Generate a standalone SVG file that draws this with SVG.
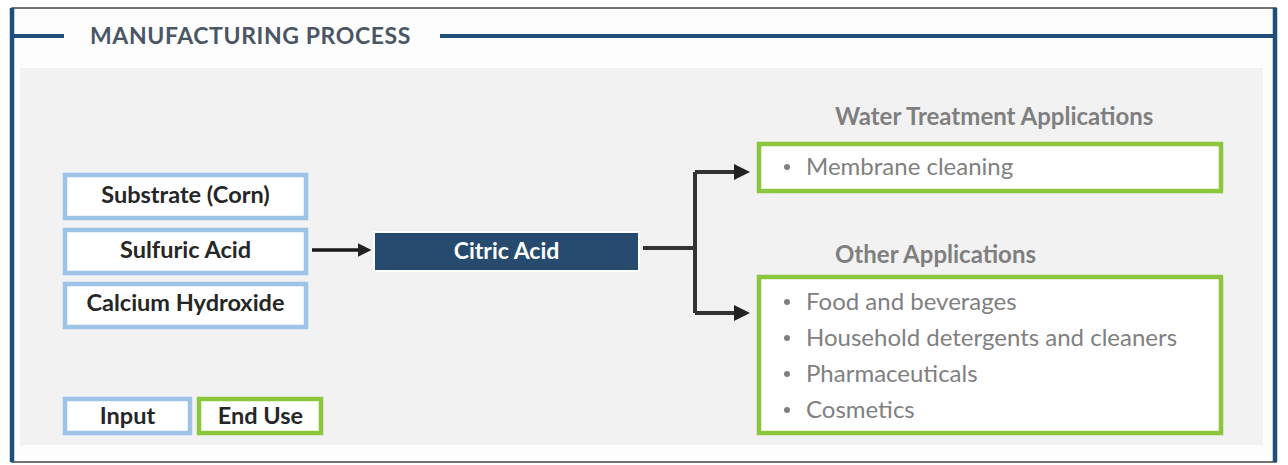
<svg xmlns="http://www.w3.org/2000/svg" width="1288" height="465" viewBox="0 0 1288 465">
<style>
.inbox{fill:#ffffff;stroke:#9dc3e6;stroke-width:4.5}
.endbox{fill:#ffffff;stroke:#8cc63f;stroke-width:4.5}
.lbl{font-family:Lato,"Open Sans",sans-serif;font-weight:bold;font-size:23.5px;fill:#262626;text-anchor:middle}
.hdr{font-family:Lato,"Open Sans",sans-serif;font-weight:bold;font-size:24px;fill:#7f7f7f}
.item{font-family:Lato,"Open Sans",sans-serif;font-size:24px;fill:#808080}
.dot{fill:#808080}
.conn{fill:none;stroke:#333333;stroke-width:4;stroke-linejoin:round}
</style>
<defs>
<marker id="ah" markerWidth="4" markerHeight="4" refX="1" refY="2" orient="auto" markerUnits="strokeWidth" viewBox="0 0 4 4">
<path d="M0,0 L4,2 L0,4 Z" fill="#222222"/>
</marker>
</defs>
<rect x="0" y="0" width="1288" height="465" fill="#ffffff"/>
<g id="frame">
<rect x="12" y="8" width="1264" height="454" fill="#fdfdfd" stroke="#444444" stroke-width="1.5"/>
<rect x="20" y="68" width="1243" height="377" fill="#f2f2f2"/>
<line x1="12" y1="8" x2="12" y2="462" stroke="#1f4e79" stroke-width="4.5"/>
<line x1="1275" y1="8" x2="1275" y2="462" stroke="#1f4e79" stroke-width="4.5"/>
<line x1="14" y1="36" x2="64" y2="36" stroke="#1f4e79" stroke-width="4"/>
<line x1="440" y1="36" x2="1273" y2="36" stroke="#1f4e79" stroke-width="4"/>
<text x="90" y="44" font-family="Lato,'Open Sans',sans-serif" font-weight="bold" font-size="23" fill="#4a5665" letter-spacing="0.6">MANUFACTURING PROCESS</text>
</g>
<g id="substrate">
<rect class="inbox" x="65" y="175" width="241" height="43"/>
<text class="lbl" x="185.5" y="203">Substrate (Corn)</text>
</g>
<g id="sulfuric">
<rect class="inbox" x="65" y="230" width="241" height="43"/>
<text class="lbl" x="185.5" y="258">Sulfuric Acid</text>
</g>
<g id="calcium">
<rect class="inbox" x="65" y="284" width="241" height="43"/>
<text class="lbl" x="185.5" y="311">Calcium Hydroxide</text>
</g>
<g id="citric">
<rect x="373" y="231" width="267" height="41" fill="#ffffff"/>
<rect x="375" y="233" width="263" height="37" fill="#264b6e"/>
<text x="506.5" y="259" font-family="Lato,'Open Sans',sans-serif" font-weight="bold" font-size="23" fill="#ffffff" text-anchor="middle">Citric Acid</text>
</g>
<g id="water">
<text class="hdr" x="835" y="125">Water Treatment Applications</text>
<rect class="endbox" x="759" y="144" width="462" height="47"/>
<circle class="dot" cx="787" cy="167" r="3"/>
<text class="item" x="806" y="175">Membrane cleaning</text>
</g>
<g id="other">
<text class="hdr" x="835" y="263">Other Applications</text>
<rect class="endbox" x="759" y="277" width="462" height="156"/>
<circle class="dot" cx="787" cy="302" r="3"/>
<text class="item" x="806" y="310">Food and beverages</text>
<circle class="dot" cx="787" cy="338" r="3"/>
<text class="item" x="806" y="346">Household detergents and cleaners</text>
<circle class="dot" cx="787" cy="374" r="3"/>
<text class="item" x="806" y="382">Pharmaceuticals</text>
<circle class="dot" cx="787" cy="410" r="3"/>
<text class="item" x="806" y="418">Cosmetics</text>
</g>
<g id="legend-input">
<rect class="inbox" x="65" y="399" width="125" height="34"/>
<text class="lbl" x="127.5" y="424" font-size="19.5">Input</text>
</g>
<g id="legend-enduse">
<rect class="endbox" x="199" y="399" width="122" height="34"/>
<text class="lbl" x="260.5" y="424" font-size="19.5">End Use</text>
</g>
<g id="connectors">
<line x1="312" y1="250" x2="361" y2="250" stroke="#1a1a1a" stroke-width="3.5" marker-end="url(#ah)"/>
<path class="conn" d="M643,248 H695 M695,172 V313"/>
<path class="conn" d="M695,172 H738" marker-end="url(#ah)"/>
<path class="conn" d="M695,313 H738" marker-end="url(#ah)"/>
</g>
</svg>
